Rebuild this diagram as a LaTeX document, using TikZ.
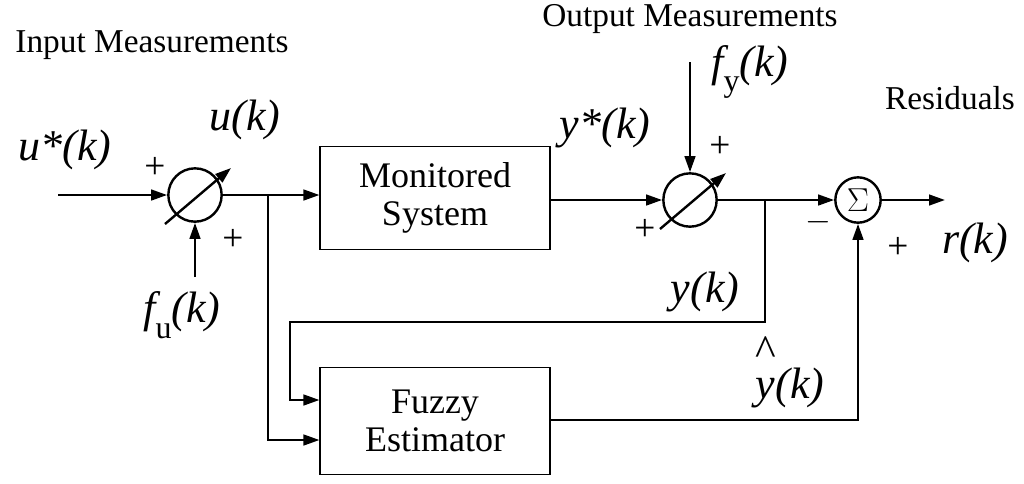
\documentclass[tikz,border=0pt]{standalone}
\usepackage{fontspec}
\setmainfont{Liberation Serif}
\usetikzlibrary{arrows.meta}
\tikzset{every picture/.style={line width=1.8pt},
  blk/.style={draw,line width=0.8pt,minimum width=172.5pt,align=center,font=\fontsize{27}{29}\selectfont},
  sum/.style={draw,circle,minimum size=40pt,inner sep=0pt},
  lbl/.style={font=\fontsize{33}{36}\selectfont\itshape,inner sep=0.75pt},
  txt/.style={font=\fontsize{25}{28}\selectfont,inner sep=0.75pt},
  sgn/.style={font=\fontsize{28}{30}\selectfont,inner sep=0.75pt},
  arr/.style={-{Triangle[length=12pt,width=8pt]}}}
\newcommand{\sbs}[1]{\raisebox{-0.35em}{\fontsize{24}{26}\selectfont\upshape #1}}
\newcommand{\hatted}[1]{{\ooalign{#1\cr\hidewidth\raisebox{0.75em}{\upshape\^{}}\hidewidth}}}
\begin{document}
\begin{tikzpicture}[x=0.75pt,y=0.75pt,yscale=-1,xscale=1]
\useasboundingbox (0,0) rectangle (1024,483);
% Blocks
\node [blk,minimum height=77pt] (mon) at (435,198) {Monitored\\System};
\node [blk,minimum height=80pt] (fuz) at (435,421) {Fuzzy\\Estimator};
\node [sum] (s1) at (195,195) {};
\node [sum] (s2) at (690,200) {};
\node [draw,circle,minimum size=34pt,inner sep=0pt,font=\fontsize{26}{28}\selectfont] (s3) at (858,200) {$\Sigma$};
% Coordinates
\coordinate (uin) at (58,195);
\coordinate (fu) at (195,277);
\coordinate (fy) at (690,62);
\coordinate (b1) at (268,195);
\coordinate (b2) at (765,200);
\coordinate (rout) at (945,200);
% Connectors
\draw [arr] (uin) -- (s1);
\draw [arr] (fu) -- (s1);
\draw [arr] (s1) -- (mon.west |- s1);
\draw [arr] (b1) |- (fuz.west |- 0,440);
\draw [arr] (mon.east |- s2) -- (s2);
\draw [arr] (fy) -- (s2);
\draw [arr] (s2) -- (s3);
\draw [arr] (b2) |- (290,322) -- (290,400) -- (fuz.west |- 0,400);
\draw [arr] (fuz.east |- 0,420) -| (s3);
\draw [arr] (s3) -- (rout);
\draw [arr] (165,224) -- (231,168);
\draw [arr] (660,229) -- (726,173);
% Text Node
\node [txt] at (152,45) {Input Measurements};
\node [txt] at (690,19) {Output Measurements};
\node [txt] at (950,98) {Residuals};
\node [lbl] at (65,150) {u*(k)};
\node [lbl] at (245,120) {u(k)};
\node [lbl] at (182,315) {f\sbs{u}(k)};
\node [lbl] at (605,128) {y*(k)};
\node [lbl] at (750,72) {f\sbs{y}(k)};
\node [lbl] at (705,292) {y(k)};
\node [lbl] at (790,388) {\hatted{y}(k)};
\node [lbl] at (975,243) {r(k)};
\node [sgn] at (155,168) {+};
\node [sgn] at (233,240) {+};
\node [sgn] at (720,147) {+};
\node [sgn] at (645,230) {+};
\node [sgn] at (818,222) {$-$};
\node [sgn] at (898,248) {+};
\end{tikzpicture}
\end{document}
